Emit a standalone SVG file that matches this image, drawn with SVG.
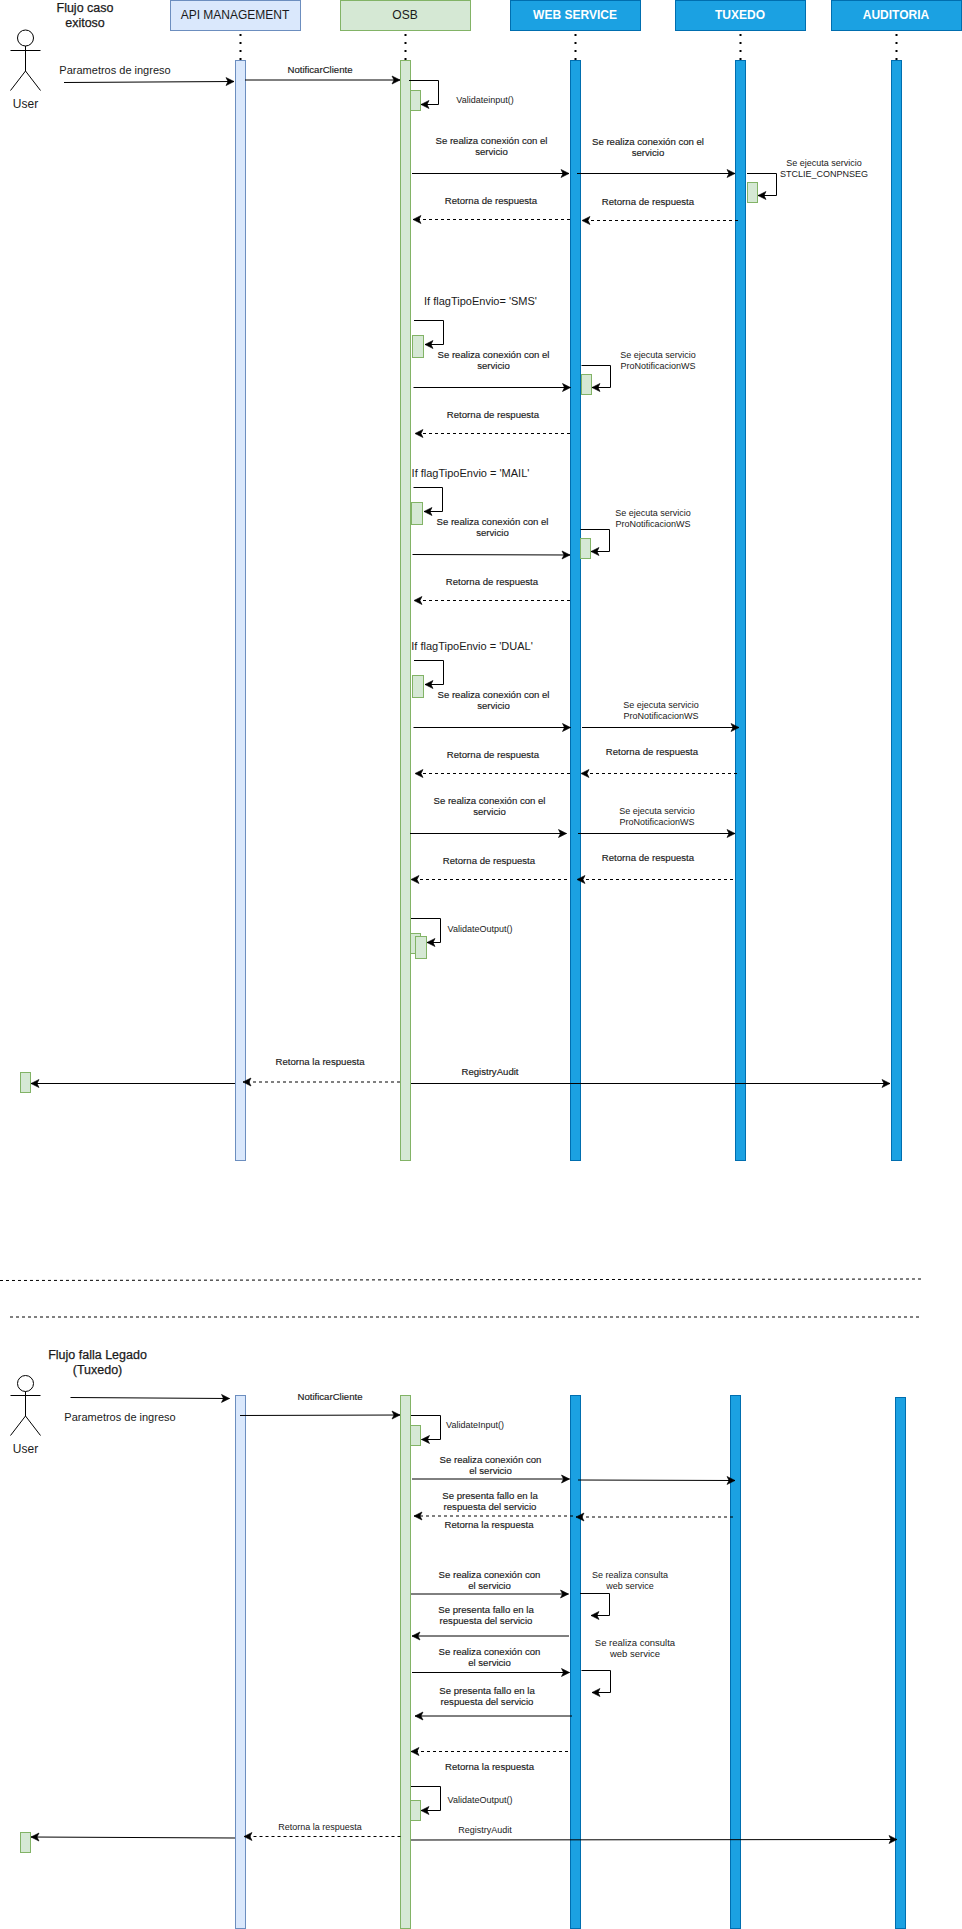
<svg xmlns="http://www.w3.org/2000/svg" width="962" height="1929" viewBox="0 0 962 1929">
<style>
text{font-family:"Liberation Sans",Arial,sans-serif;fill:#1a1a1a;text-anchor:middle}
.t12{font-size:12px}.t11{font-size:11px}.t13{font-size:12.5px;stroke:#1a1a1a;stroke-width:.25}
.t10{font-size:9.6px;stroke:#1a1a1a;stroke-width:.15}.t9{font-size:9px}
.w{fill:#fff;font-weight:bold;font-size:12px}
.api{fill:#dae8fc;stroke:#6c8ebf;stroke-width:1}
.osb{fill:#d5e8d4;stroke:#82b366;stroke-width:1}
.ws{fill:#1ba1e2;stroke:#006eaf;stroke-width:1}
.dot{stroke:#000;stroke-width:2;stroke-dasharray:2 6;fill:none}
.actor{fill:#fff;stroke:#000;stroke-width:1}
.m{fill:none;stroke:#000;stroke-width:1;marker-end:url(#a)}
.d{fill:none;stroke:#000;stroke-width:1;stroke-dasharray:3 3;marker-end:url(#a)}
.sep{fill:none;stroke:#000;stroke-width:1;stroke-dasharray:3 3}
</style>
<defs>
<marker id="a" markerUnits="userSpaceOnUse" markerWidth="10" markerHeight="10" refX="8" refY="4.5" orient="auto" overflow="visible"><path d="M0 .5L8 4.5L0 8.5L2 4.5Z" fill="#000" stroke="#000" stroke-width=".6"/></marker>
</defs>
<rect width="962" height="1929" fill="#fff"/>

<g id="node-api">
<rect class="api" x="170.5" y="0.5" width="130" height="30"/>
<text class="t12" x="235" y="19">API MANAGEMENT</text>
<path class="dot" d="M240.5 34V60"/>
<rect class="api" x="235.5" y="60.5" width="10" height="1100"/>
</g>
<g id="node-osb">
<rect class="osb" x="340.5" y="0.5" width="130" height="30"/>
<text class="t12" x="405" y="19">OSB</text>
<path class="dot" d="M405.5 34V60"/>
<rect class="osb" x="400.5" y="60.5" width="10" height="1100"/>
</g>
<g id="node-webservice">
<rect class="ws" x="510.5" y="0.5" width="130" height="30"/>
<text class="w" x="575" y="19">WEB SERVICE</text>
<path class="dot" d="M575.5 34V60"/>
<rect class="ws" x="570.5" y="60.5" width="10" height="1100"/>
</g>
<g id="node-tuxedo">
<rect class="ws" x="675.5" y="0.5" width="130" height="30"/>
<text class="w" x="740" y="19">TUXEDO</text>
<path class="dot" d="M740.5 34V60"/>
<rect class="ws" x="735.5" y="60.5" width="10" height="1100"/>
</g>
<g id="node-auditoria">
<rect class="ws" x="831.5" y="0.5" width="130" height="30"/>
<text class="w" x="896" y="19">AUDITORIA</text>
<path class="dot" d="M896.5 34V60"/>
<rect class="ws" x="891.5" y="60.5" width="10" height="1100"/>
</g>
<g id="node-user1">
<circle class="actor" cx="25.5" cy="38" r="8"/>
<path class="actor" fill="none" d="M25.5 46V71M10.5 50.5H40.5M25.5 71L10.5 90.5M25.5 71L40.5 90.5"/>
<text class="t12" x="25.5" y="108">User</text>
</g>
<g id="node-title1"><text class="t13" x="85" y="12">Flujo caso<tspan x="85" dy="15">exitoso</tspan></text></g>

<g id="activations1">
<rect class="osb" x="410.5" y="90.5" width="10" height="20"/>
<rect class="osb" x="747.5" y="182.5" width="10" height="20"/>
<rect class="osb" x="412.5" y="335.5" width="11" height="22"/>
<rect class="osb" x="581.5" y="374.5" width="10" height="20"/>
<rect class="osb" x="411.5" y="502.5" width="11" height="22"/>
<rect class="osb" x="580.5" y="538.5" width="10" height="20"/>
<rect class="osb" x="412.5" y="675.5" width="11" height="22"/>
<rect class="osb" x="410.5" y="933.5" width="10" height="20"/>
<rect class="osb" x="415.5" y="936.5" width="11" height="22"/>
<rect class="osb" x="20.5" y="1072.5" width="10" height="20"/>
</g>

<g id="node-api2"><rect class="api" x="235.5" y="1395.5" width="10" height="533"/></g>
<g id="node-osb2"><rect class="osb" x="400.5" y="1395.5" width="10" height="533"/></g>
<g id="node-webservice2"><rect class="ws" x="570.5" y="1395.5" width="10" height="533"/></g>
<g id="node-tuxedo2"><rect class="ws" x="730.5" y="1395.5" width="10" height="533"/></g>
<g id="node-auditoria2"><rect class="ws" x="895.5" y="1397.5" width="10" height="531"/></g>
<g id="node-user2">
<circle class="actor" cx="25.5" cy="1383.5" r="8"/>
<path class="actor" fill="none" d="M25.5 1391.5V1416M10.5 1395.5H40.5M25.5 1416L10.5 1435.5M25.5 1416L40.5 1435.5"/>
<text class="t12" x="25.5" y="1453">User</text>
</g>
<g id="node-title2"><text class="t13" x="97.5" y="1359">Flujo falla Legado<tspan x="97.5" dy="15">(Tuxedo)</tspan></text></g>
<g id="activations2">
<rect class="osb" x="410.5" y="1425.5" width="10" height="20"/>
<rect class="osb" x="410.5" y="1800.5" width="10" height="20"/>
<rect class="osb" x="20.5" y="1832.5" width="10" height="20"/>
</g>

<g id="connectors">
<path class="m" d="M64 82.5L234 81.5"/>
<path class="m" d="M245 80H400"/>
<path class="m" d="M409 80.5H438.5V104.5H421"/>
<path class="m" d="M412 173.5H569"/>
<path class="m" d="M577 173.5H735"/>
<path class="m" d="M747 173.5H776.5V195.5H758"/>
<path class="d" d="M570 219.5H413"/>
<path class="d" d="M738 220.5H582"/>
<path class="m" d="M414 320.5H443.5V344.5H425"/>
<path class="m" d="M413.5 387.5H570.5"/>
<path class="m" d="M581.5 365.5H610.5V387.5H592"/>
<path class="d" d="M570 433.5H415"/>
<path class="m" d="M413.5 487.5H442.5V511.5H424"/>
<path class="m" d="M412.5 554.5L570 555"/>
<path class="m" d="M580.5 529.5H609.5V551.5H591"/>
<path class="d" d="M570 600.5H414"/>
<path class="m" d="M414 660.5H443.5V684.5H425"/>
<path class="m" d="M413.5 727.5H570.5"/>
<path class="m" d="M582 727.5H739"/>
<path class="d" d="M570 773.5H415"/>
<path class="d" d="M737 773.5H581"/>
<path class="m" d="M410 833.5H566.5"/>
<path class="m" d="M578 833.5H735"/>
<path class="d" d="M567 879.5H411"/>
<path class="d" d="M733 879.5H577"/>
<path class="m" d="M411 918.5H440.5V942.5H427"/>
<path class="m" d="M235 1083.5H31"/>
<path class="d" d="M400 1082H243"/>
<path class="m" d="M411 1083.5H890"/>
<path class="sep" d="M0 1280.5L921 1279"/>
<path class="sep" d="M10 1317H921"/>
<path class="m" d="M70.5 1397.5L229.5 1398.5"/>
<path class="m" d="M240 1415.5L400 1415"/>
<path class="m" d="M411 1415.5H440.5V1439.5H421.5"/>
<path class="m" d="M412 1479H569.5"/>
<path class="m" d="M578 1480L735 1480.5"/>
<path class="d" d="M573 1516H414"/>
<path class="d" d="M733 1517H576"/>
<path class="m" d="M411 1594H568.5"/>
<path class="m" d="M580 1593.5H609.5V1615.5H591"/>
<path class="m" d="M569 1636H412"/>
<path class="m" d="M412 1672.5H569.5"/>
<path class="m" d="M581.5 1670.5H610.5V1692.5H592"/>
<path class="m" d="M572 1716H415"/>
<path class="d" d="M568 1751.5H411"/>
<path class="m" d="M411 1786.5H440.5V1810.5H421"/>
<path class="d" d="M400.5 1836.5H244"/>
<path class="m" d="M235 1838L31 1837"/>
<path class="m" d="M411 1840L897 1839.5"/>
</g>

<g id="labels">
<text class="t11" x="115" y="74">Parametros de ingreso</text>
<text class="t10" x="320" y="73">NotificarCliente</text>
<text class="t9" x="485" y="103">Validateinput()</text>
<text class="t10" x="491.5" y="144">Se realiza conexión con el<tspan x="491.5" dy="11">servicio</tspan></text>
<text class="t10" x="648" y="145">Se realiza conexión con el<tspan x="648" dy="11">servicio</tspan></text>
<text class="t9" x="824" y="165.5">Se ejecuta servicio<tspan x="824" dy="11">STCLIE_CONPNSEG</tspan></text>
<text class="t10" x="491" y="204">Retorna de respuesta</text>
<text class="t10" x="648" y="205">Retorna de respuesta</text>
<text class="t11" x="480.5" y="305">If flagTipoEnvio= 'SMS'</text>
<text class="t10" x="493.5" y="358">Se realiza conexión con el<tspan x="493.5" dy="11">servicio</tspan></text>
<text class="t9" x="658" y="358">Se ejecuta servicio<tspan x="658" dy="11">ProNotificacionWS</tspan></text>
<text class="t10" x="493" y="418">Retorna de respuesta</text>
<text class="t11" x="470.5" y="477">If flagTipoEnvio = 'MAIL'</text>
<text class="t10" x="492.5" y="525">Se realiza conexión con el<tspan x="492.5" dy="11">servicio</tspan></text>
<text class="t9" x="653" y="516">Se ejecuta servicio<tspan x="653" dy="11">ProNotificacionWS</tspan></text>
<text class="t10" x="492" y="585">Retorna de respuesta</text>
<text class="t11" x="472" y="650">If flagTipoEnvio = 'DUAL'</text>
<text class="t10" x="493.5" y="698">Se realiza conexión con el<tspan x="493.5" dy="11">servicio</tspan></text>
<text class="t9" x="661" y="708">Se ejecuta servicio<tspan x="661" dy="11">ProNotificacionWS</tspan></text>
<text class="t10" x="493" y="758">Retorna de respuesta</text>
<text class="t10" x="652" y="755">Retorna de respuesta</text>
<text class="t10" x="489.5" y="804">Se realiza conexión con el<tspan x="489.5" dy="11">servicio</tspan></text>
<text class="t9" x="657" y="814">Se ejecuta servicio<tspan x="657" dy="11">ProNotificacionWS</tspan></text>
<text class="t10" x="489" y="864">Retorna de respuesta</text>
<text class="t10" x="648" y="861">Retorna de respuesta</text>
<text class="t9" x="480" y="931.5">ValidateOutput()</text>
<text class="t10" x="320" y="1065">Retorna la respuesta</text>
<text class="t10" x="490" y="1075">RegistryAudit</text>
<text class="t11" x="120" y="1421">Parametros de ingreso</text>
<text class="t10" x="330" y="1400">NotificarCliente</text>
<text class="t9" x="475" y="1428">ValidateInput()</text>
<text class="t10" x="490.5" y="1463">Se realiza conexión con<tspan x="490.5" dy="11">el servicio</tspan></text>
<text class="t10" x="490" y="1498.5">Se presenta fallo en la<tspan x="490" dy="11">respuesta del servicio</tspan></text>
<text class="t10" x="489" y="1528">Retorna la respuesta</text>
<text class="t10" x="489.5" y="1578">Se realiza conexión con<tspan x="489.5" dy="11">el servicio</tspan></text>
<text class="t9" x="630" y="1577.5">Se realiza consulta<tspan x="630" dy="11">web service</tspan></text>
<text class="t10" x="486" y="1612.5">Se presenta fallo en la<tspan x="486" dy="11">respuesta del servicio</tspan></text>
<text class="t10" x="489.5" y="1655">Se realiza conexión con<tspan x="489.5" dy="11">el servicio</tspan></text>
<text class="t9" style="font-size:9.5px" x="635" y="1645.5">Se realiza consulta<tspan x="635" dy="11">web service</tspan></text>
<text class="t10" x="487" y="1694">Se presenta fallo en la<tspan x="487" dy="11">respuesta del servicio</tspan></text>
<text class="t10" x="489.5" y="1770">Retorna la respuesta</text>
<text class="t9" x="480" y="1803">ValidateOutput()</text>
<text class="t9" x="320" y="1830">Retorna la respuesta</text>
<text class="t9" x="485" y="1833">RegistryAudit</text>
</g>
</svg>
